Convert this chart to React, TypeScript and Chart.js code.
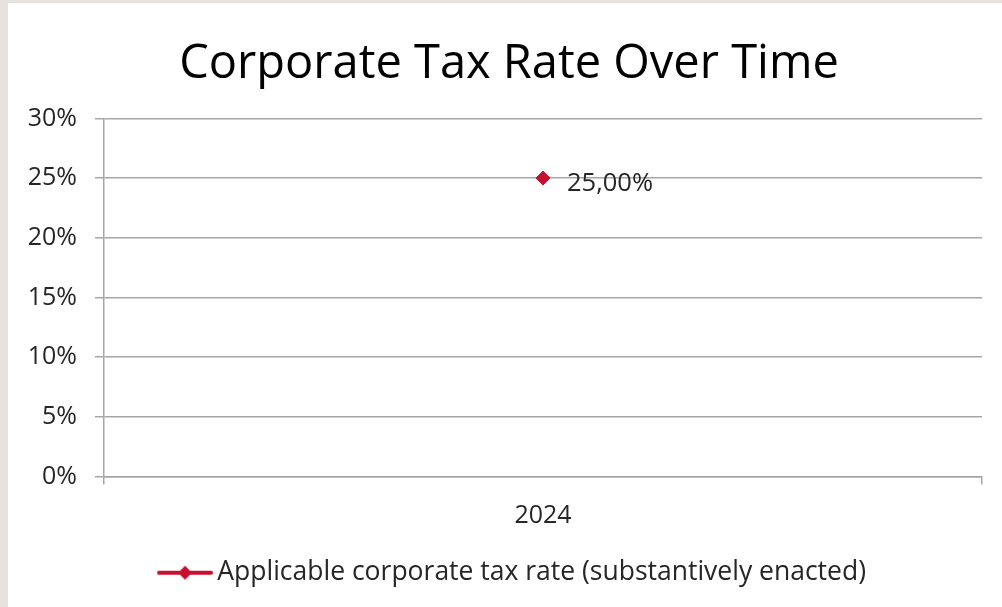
import React, { useEffect, useRef } from "react";
import { Chart, registerables } from "chart.js";

Chart.register(...registerables);

const categories = ["2024"];
const seriesName = "Applicable corporate tax rate (substantively enacted)";
const taxRates = [25];
const yTicks = [0, 5, 10, 15, 20, 25, 30];
const titleText = "Corporate Tax Rate Over Time";

const RED = "#C8102E";
const GRID = "#a6a6a6";
const TEXT = "#262626";
const FONT = "'Open Sans', sans-serif";

export default function App() {
  const ref = useRef<HTMLCanvasElement | null>(null);

  useEffect(() => {
    if (!ref.current) return;
    const marker = document.createElement("canvas");
    marker.width = 56;
    marker.height = 16;
    const mc = marker.getContext("2d")!;
    mc.strokeStyle = RED;
    mc.lineWidth = 4;
    mc.lineCap = "round";
    mc.beginPath();
    mc.moveTo(2, 8);
    mc.lineTo(54, 8);
    mc.stroke();
    mc.fillStyle = RED;
    mc.beginPath();
    mc.moveTo(28, 1);
    mc.lineTo(35, 8);
    mc.lineTo(28, 15);
    mc.lineTo(21, 8);
    mc.closePath();
    mc.fill();

    const labelPlugin = {
      id: "valueLabels",
      afterDatasetsDraw(chart: any) {
        const ctx = chart.ctx;
        const meta = chart.getDatasetMeta(0);
        ctx.save();
        ctx.font = `25.5px ${FONT}`;
        ctx.fillStyle = TEXT;
        ctx.textAlign = "left";
        ctx.textBaseline = "middle";
        meta.data.forEach((pt: any, i: number) => {
          const v = taxRates[i];
          const txt = v.toFixed(2).replace(".", ",") + "%";
          ctx.fillText(txt, pt.x + 24, pt.y + 6);
        });
        ctx.restore();
      },
    };

    // shift the centred title and legend boxes to match the reference centring
    const boxShift = {
      id: "boxShift",
      afterLayout(chart: any) {
        if (chart.titleBlock) chart.titleBlock.left += 28;
        if (chart.legend) chart.legend.left += 42;
      },
    };

    const chart = new Chart(ref.current, {
      type: "line",
      data: {
        labels: categories,
        datasets: [
          {
            label: seriesName,
            data: taxRates,
            borderColor: RED,
            backgroundColor: RED,
            borderWidth: 4,
            pointStyle: "rectRot",
            pointRadius: 7,
            pointHoverRadius: 7,
            pointBackgroundColor: RED,
            pointBorderColor: RED,
            pointBorderWidth: 1,
          },
        ],
      },
      options: {
        animation: false,
        responsive: false,
        devicePixelRatio: 1,
        layout: { padding: { left: 0, right: 20, top: 0, bottom: 11 } },
        plugins: {
          title: {
            display: true,
            text: titleText,
            color: "#000",
            font: { family: FONT, size: 47, weight: "normal", lineHeight: 1.2 },
            padding: { top: 33, bottom: 26 },
          },
          legend: {
            display: true,
            position: "bottom",
            labels: {
              usePointStyle: true,
              pointStyle: marker as any,
              pointStyleWidth: 38,
              color: TEXT,
              padding: 10,
              font: { family: FONT, size: 26.5, lineHeight: 1.2 },
            },
          },
          tooltip: { enabled: false },
        },
        scales: {
          x: {
            type: "category",
            offset: true,
            grid: {
              offset: true,
              drawOnChartArea: false,
              drawTicks: true,
              tickLength: 8,
              color: GRID,
              lineWidth: 1.5,
            },
            border: { display: true, color: GRID, width: 1.5 },
            ticks: {
              color: TEXT,
              padding: 16,
              font: { family: FONT, size: 25, lineHeight: 1.2 },
            },
            afterFit(scale: any) {
              scale.height = 73;
            },
          },
          y: {
            min: 0,
            max: 30,
            afterBuildTicks(scale: any) {
              scale.ticks = yTicks.map((v) => ({ value: v }));
            },
            grid: {
              color: GRID,
              lineWidth: 1.5,
              tickLength: 9,
            },
            border: { display: true, color: GRID, width: 1.5 },
            ticks: {
              color: TEXT,
              padding: 18,
              font: { family: FONT, size: 25, lineHeight: 1.2 },
              callback: (v: any) => `${v}%`,
            },
            afterFit(scale: any) {
              scale.width = 96;
            },
          },
        },
      },
      plugins: [labelPlugin, boxShift],
    });
    return () => chart.destroy();
  }, []);

  return (
    <div
      style={{
        position: "fixed",
        left: 0,
        top: 0,
        width: 1002,
        height: 607,
        background: "#e6e3df",
      }}
    >
      <div
        style={{
          position: "absolute",
          left: 8,
          top: 3,
          width: 994,
          height: 604,
          background: "#ffffff",
        }}
      >
        <canvas ref={ref} width={994} height={604} style={{ display: "block" }} />
      </div>
    </div>
  );
}
